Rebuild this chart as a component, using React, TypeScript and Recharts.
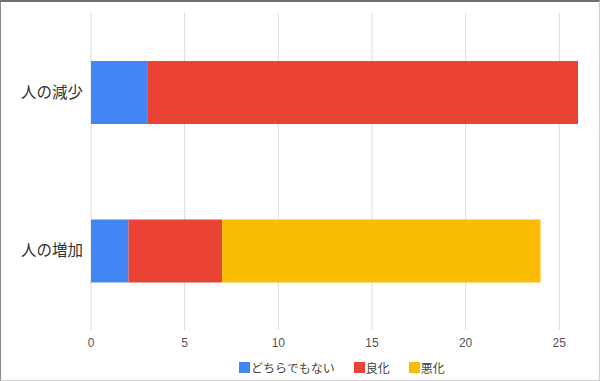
import { BarChart, Bar, XAxis, YAxis, CartesianGrid } from "recharts"

const categories = ["人の減少", "人の増加"]
const neither = [3, 2]
const better = [23, 5]
const worse = [0, 17]
const xTicks = [0, 5, 10, 15, 20, 25]
const xDomain = [0, 26]

const series = [
  { key: "neither", name: "どちらでもない", color: "#4285f4" },
  { key: "better", name: "良化", color: "#ea4335" },
  { key: "worse", name: "悪化", color: "#fbbc04" },
]

const data = categories.map((name, i) => ({
  name,
  neither: neither[i],
  better: better[i],
  worse: worse[i],
}))

const font = "Arial, 'Liberation Sans', 'Noto Sans CJK JP', sans-serif"

export default function App() {
  return (
    <div
      style={{
        position: "fixed",
        left: 0,
        top: 0,
        width: 600,
        height: 381,
        boxSizing: "border-box",
        borderTop: "2px solid #6f6f6f",
        borderLeft: "1px solid #8a8a8a",
        borderRight: "1px solid #cfcfcf",
        borderBottom: "1px solid #cfcfcf",
        background: "#fff",
        fontFamily: font,
      }}
    >
      <BarChart
        width={598}
        height={378}
        data={data}
        layout="vertical"
        margin={{ top: 11, right: 21, bottom: 20, left: 0 }}
        barSize={63}
      >
        {/* syncWithTicks: no extra line at the domain end */}
        <CartesianGrid horizontal={false} stroke="#dadada" syncWithTicks />
        <XAxis
          type="number"
          domain={xDomain}
          ticks={xTicks}
          axisLine={false}
          tickLine={false}
          tick={{ fontSize: 12, fill: "#555", fontFamily: font }}
        />
        <YAxis
          type="category"
          dataKey="name"
          width={90}
          axisLine={false}
          tickLine={false}
          tick={{ fontSize: 15.5, fill: "#333", fontFamily: font }}
        />
        {series.map((s) => (
          <Bar key={s.key} dataKey={s.key} name={s.name} stackId="a" fill={s.color} isAnimationActive={false} />
        ))}
      </BarChart>
      <div
        style={{
          position: "absolute",
          left: 238,
          top: 357,
          display: "flex",
          alignItems: "center",
          fontSize: 12,
          color: "#444",
        }}
      >
        {series.map((s) => (
          <div key={s.key} style={{ display: "flex", alignItems: "center", marginRight: 19 }}>
            <span style={{ width: 11, height: 11, background: s.color, marginRight: 1 }} />
            <span>{s.name}</span>
          </div>
        ))}
      </div>
    </div>
  )
}
